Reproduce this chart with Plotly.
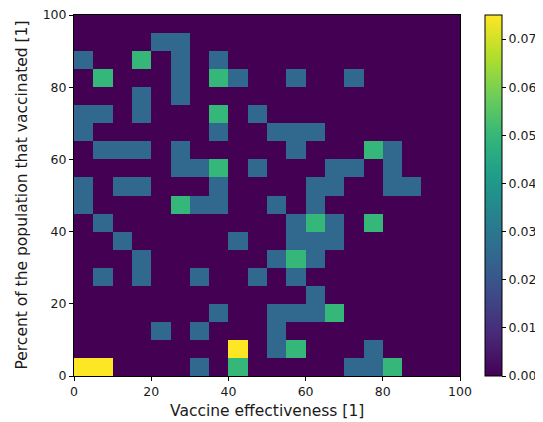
import plotly.graph_objects as go

# bin centres (5-wide bins over 0..100)
x_centers = [2.5 + 5 * i for i in range(20)]
y_centers = [2.5 + 5 * j for j in range(20)]

# density values, rows from bottom (y 0-5) to top (y 95-100)
r00 = [0.075, 0.075, 0, 0, 0, 0, 0.025, 0, 0.05, 0, 0, 0, 0, 0, 0.025, 0.025, 0.05, 0, 0, 0]
r01 = [0, 0, 0, 0, 0, 0, 0, 0, 0.075, 0, 0.025, 0.05, 0, 0, 0, 0.025, 0, 0, 0, 0]
r02 = [0, 0, 0, 0, 0.025, 0, 0.025, 0, 0, 0, 0.025, 0, 0, 0, 0, 0, 0, 0, 0, 0]
r03 = [0, 0, 0, 0, 0, 0, 0, 0.025, 0, 0, 0.025, 0.025, 0.025, 0.05, 0, 0, 0, 0, 0, 0]
r04 = [0, 0, 0, 0, 0, 0, 0, 0, 0, 0, 0, 0, 0.025, 0, 0, 0, 0, 0, 0, 0]
r05 = [0, 0.025, 0, 0.025, 0, 0, 0.025, 0, 0, 0.025, 0, 0.025, 0, 0, 0, 0, 0, 0, 0, 0]
r06 = [0, 0, 0, 0.025, 0, 0, 0, 0, 0, 0, 0.025, 0.05, 0.025, 0, 0, 0, 0, 0, 0, 0]
r07 = [0, 0, 0.025, 0, 0, 0, 0, 0, 0.025, 0, 0, 0.025, 0.025, 0.025, 0, 0, 0, 0, 0, 0]
r08 = [0, 0.025, 0, 0, 0, 0, 0, 0, 0, 0, 0, 0.025, 0.05, 0.025, 0, 0.05, 0, 0, 0, 0]
r09 = [0.025, 0, 0, 0, 0, 0.05, 0.025, 0.025, 0, 0, 0.025, 0, 0.025, 0, 0, 0, 0, 0, 0, 0]
r10 = [0.025, 0, 0.025, 0.025, 0, 0, 0, 0.025, 0, 0, 0, 0, 0.025, 0.025, 0, 0, 0.025, 0.025, 0, 0]
r11 = [0, 0, 0, 0, 0, 0.025, 0.025, 0.05, 0, 0.025, 0, 0, 0, 0.025, 0.025, 0, 0.025, 0, 0, 0]
r12 = [0, 0.025, 0.025, 0.025, 0, 0.025, 0, 0, 0, 0, 0, 0.025, 0, 0, 0, 0.05, 0.025, 0, 0, 0]
r13 = [0.025, 0, 0, 0, 0, 0, 0, 0.025, 0, 0, 0.025, 0.025, 0.025, 0, 0, 0, 0, 0, 0, 0]
r14 = [0.025, 0.025, 0, 0.025, 0, 0, 0, 0.05, 0, 0.025, 0, 0, 0, 0, 0, 0, 0, 0, 0, 0]
r15 = [0, 0, 0, 0.025, 0, 0.025, 0, 0, 0, 0, 0, 0, 0, 0, 0, 0, 0, 0, 0, 0]
r16 = [0, 0.05, 0, 0, 0, 0.025, 0, 0.05, 0.025, 0, 0, 0.025, 0, 0, 0.025, 0, 0, 0, 0, 0]
r17 = [0.025, 0, 0, 0.05, 0, 0.025, 0, 0.025, 0, 0, 0, 0, 0, 0, 0, 0, 0, 0, 0, 0]
r18 = [0, 0, 0, 0, 0.025, 0.025, 0, 0, 0, 0, 0, 0, 0, 0, 0, 0, 0, 0, 0, 0]
r19 = [0] * 20

z = [r00, r01, r02, r03, r04, r05, r06, r07, r08, r09,
     r10, r11, r12, r13, r14, r15, r16, r17, r18, r19]

axis_ticks = [0, 20, 40, 60, 80, 100]
cbar_ticks = [0.00, 0.01, 0.02, 0.03, 0.04, 0.05, 0.06, 0.07]

x_title = "Vaccine effectiveness [1]"
y_title = "Percent of the population that vaccinated [1]"

font = "DejaVu Sans"
ink = "#1a1a1a"

fig = go.Figure(
    go.Heatmap(
        x=x_centers,
        y=y_centers,
        z=z,
        zmin=0,
        zmax=0.075,
        colorscale="Viridis",
        showscale=True,
        colorbar=dict(
            x=1.065,
            xanchor="left",
            y=0.5,
            yanchor="middle",
            len=1.0,
            lenmode="fraction",
            thickness=17,
            thicknessmode="pixels",
            outlinecolor="black",
            outlinewidth=1,
            ticks="outside",
            ticklen=4,
            tickcolor="black",
            tickvals=cbar_ticks,
            tickformat=".2f",
            tickfont=dict(family=font, size=12.5, color=ink),
            ticklabeloverflow="allow",
            xpad=0,
            ypad=0,
        ),
        hoverinfo="skip",
    )
)

# page body has an 8px default margin, so the figure is sized to fit the window
fig.update_layout(
    width=535,
    height=414,
    margin=dict(l=66, r=83, t=7, b=46, autoexpand=False),
    paper_bgcolor="white",
    plot_bgcolor="white",
    font=dict(family=font, color=ink),
    annotations=[
        dict(text=x_title, xref="paper", yref="paper", x=0.5, y=0,
             xanchor="center", yanchor="middle", yshift=-35, showarrow=False,
             font=dict(family=font, size=15.5, color=ink)),
        dict(text=y_title, xref="paper", yref="paper", x=0, y=0.5,
             xanchor="center", yanchor="middle", xshift=-53, textangle=-90,
             showarrow=False, font=dict(family=font, size=15.5, color=ink)),
    ],
)

fig.update_xaxes(
    range=[0, 100],
    tickvals=axis_ticks,
    ticks="outside",
    ticklen=4,
    tickcolor="black",
    showline=True,
    linecolor="black",
    linewidth=1,
    mirror=True,
    showgrid=False,
    zeroline=False,
    automargin=False,
    ticklabeloverflow="allow",
    tickfont=dict(family=font, size=12.5, color=ink),
)
fig.update_yaxes(
    range=[0, 100],
    tickvals=axis_ticks,
    ticks="outside",
    ticklen=4,
    tickcolor="black",
    showline=True,
    linecolor="black",
    linewidth=1,
    mirror=True,
    showgrid=False,
    zeroline=False,
    automargin=False,
    ticklabeloverflow="allow",
    tickfont=dict(family=font, size=12.5, color=ink),
)

fig.write_html("out.html")
